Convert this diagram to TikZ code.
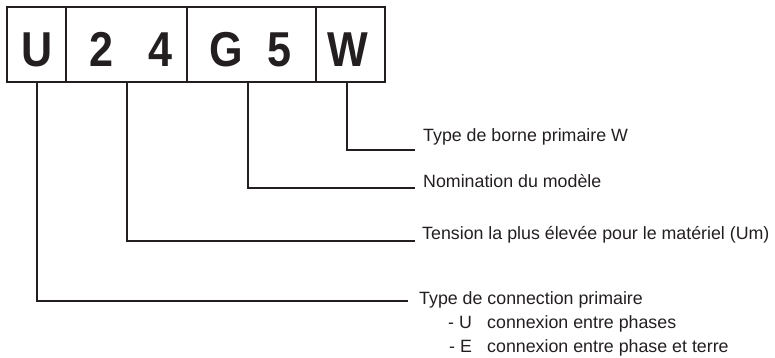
\documentclass[tikz,border=0pt]{standalone}
\usepackage{fontspec}
\setmainfont{Liberation Sans}
\definecolor{ink}{HTML}{231F20}
\begin{document}
\begin{tikzpicture}[x=1pt,y=-1pt,
  cell/.style={draw=ink,line width=2pt,minimum height=75pt,inner sep=0pt,outer sep=0pt},
  big/.style={font=\fontsize{49}{49}\selectfont\bfseries,text=ink,anchor=base,inner sep=0pt},
  desc/.style={font=\fontsize{17.8}{21}\selectfont,text=ink,anchor=base west,inner sep=0pt},
  lead/.style={draw=ink,line width=2pt,line cap=rect}]
\useasboundingbox (0,0) rectangle (775,358);
% cells
\node[cell,minimum width=59pt]  (cU) at (36.5,44.5) {};
\node[cell,minimum width=121pt] (cN) at (126.5,44.5) {};
\node[cell,minimum width=129pt] (cG) at (251.5,44.5) {};
\node[cell,minimum width=69pt]  (cW) at (350.5,44.5) {};
% letters
\node[big] (lU) at (37.5,67) {\scalebox{0.88}[1]{U}};
\node[big] (l2) at (101,67) {\scalebox{0.88}[1]{2}};
\node[big] (l4) at (160,67) {\scalebox{0.88}[1]{4}};
\node[big] (lG) at (226,67) {\scalebox{0.88}[1]{G}};
\node[big] (l5) at (279,67) {\scalebox{0.88}[1]{5}};
\node[big] (lW) at (347.5,67) {\scalebox{0.88}[1]{W}};
% line ends
\coordinate (eW) at (414,150);
\coordinate (eG) at (414,188);
\coordinate (eN) at (414,241);
\coordinate (eU) at (407,301);
% leaders
\draw[lead] ([xshift=-3.5pt]cW.south) |- (eW);
\draw[lead] ([xshift=-3.5pt]cG.south) |- (eG);
\draw[lead] ([xshift=0.5pt]cN.south) |- (eN);
\draw[lead] ([xshift=0.5pt]cU.south) |- (eU);
% descriptions
\node[desc] (tW) at (423,142) {Type de borne primaire W};
\node[desc] (tG) at (423,187) {Nomination du modèle};
\node[desc] (tN) at (422,239) {Tension la plus élevée pour le matériel (Um)};
\node[desc] (tU) at (419,304) {Type de connection primaire};
\node[desc] (dU) at (448,328) {- U};
\node[desc] (xU) at (487,328) {connexion entre phases};
\node[desc] (dE) at (449,352) {- E};
\node[desc] (xE) at (487,352) {connexion entre phase et terre};
\end{tikzpicture}
\end{document}
